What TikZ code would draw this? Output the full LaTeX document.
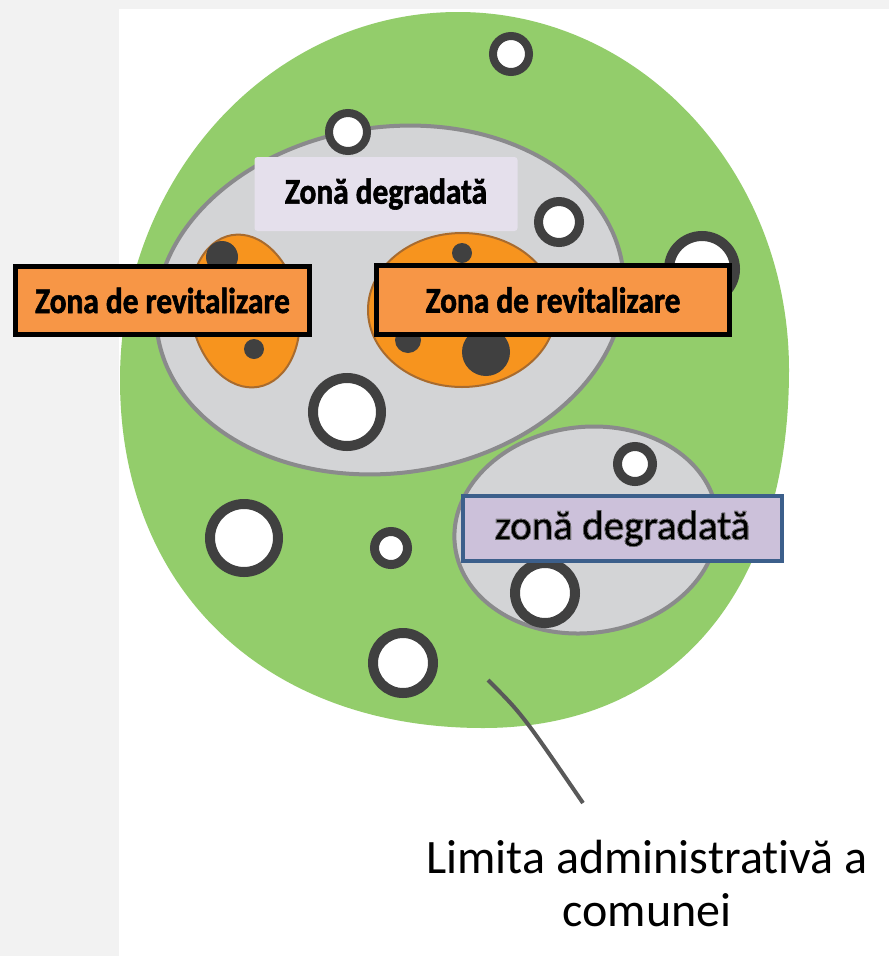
\documentclass[tikz,border=0pt]{standalone}
\usepackage{fontspec}
\setmainfont{Carlito}[Ligatures={NoCommon}]
\newfontface\lblfont[FakeBold=1.6,FakeStretch=0.87,Ligatures={NoCommon}]{Carlito Bold}
\newfontface\outA[FakeBold=3.2,Ligatures={NoCommon}]{Carlito}
\newfontface\outB[FakeBold=1.6,Ligatures={NoCommon}]{Carlito}
\newfontface\outC[FakeBold=0.3,Ligatures={NoCommon}]{Carlito}
\newcommand{\outlined}[1]{\rlap{\outA #1}\rlap{\outB\color{white}#1}{\outC #1}}
\definecolor{bggray}{HTML}{F2F2F2}
\definecolor{greenz}{HTML}{93CD6B}
\definecolor{grayfill}{HTML}{D3D4D6}
\definecolor{grayline}{HTML}{8A8A8C}
\definecolor{orangez}{HTML}{F7941E}
\definecolor{orangeline}{HTML}{A86B2E}
\definecolor{darkc}{HTML}{404040}
\definecolor{lblorange}{HTML}{F79646}
\definecolor{lbllav}{HTML}{E5E0EC}
\definecolor{lblpurple}{HTML}{CCC1DA}
\definecolor{lblblue}{HTML}{3C5F8B}
\definecolor{linec}{HTML}{595959}
\begin{document}
\begin{tikzpicture}[x=1pt,y=-1pt,
  ring/.style={draw=darkc,fill=white,line width=#1},
  dot/.style={fill=darkc},
  zonegray/.style={fill=grayfill,draw=grayline,line width=4pt},
  zoneorange/.style={fill=orangez,draw=orangeline,line width=2pt},
  revlabel/.style={draw=black,fill=lblorange,line width=5pt,inner sep=0pt,
    font=\lblfont\fontsize{36}{40}\selectfont},
  toplabel/.style={fill=lbllav,rounded corners=3pt,inner sep=0pt,
    font=\lblfont\fontsize{36}{40}\selectfont},
  purplelabel/.style={draw=lblblue,fill=lblpurple,line width=4pt,inner sep=0pt,
    font=\fontsize{41}{48}\selectfont},
  captext/.style={font=\fontsize{48}{53}\selectfont,anchor=base,inner sep=0pt},
  leader/.style={draw=linec,line width=4pt}]
\useasboundingbox (0,0) rectangle (889,956);
\fill[bggray] (0,0) rectangle (889,956);
\fill[white] (119,9) rectangle (889,956);
% green commune area
\fill[greenz] (458,12) .. controls (641,12) and (789,172) .. (789,370)
  .. controls (789,592) and (673,728) .. (483,728)
  .. controls (265,728) and (120,589) .. (120,380)
  .. controls (120,177) and (271,12) .. (458,12) -- cycle;
% rings on green
\draw[ring=8pt] (511,54) circle [radius=18];
\draw[ring=10pt] (702,269) circle [radius=33];
\draw[ring=10pt] (244,538) circle [radius=34];
\draw[ring=9pt] (391,548) circle [radius=16.5];
\draw[ring=10pt] (403,663) circle [radius=30];
% degraded zones
\draw[zonegray] (390,300) circle [x radius=235,y radius=173,rotate=8];
\draw[zonegray] (586,530) circle [x radius=132,y radius=103,rotate=7];
% revitalisation zones
\draw[zoneorange] (245,311) circle [x radius=54,y radius=77,rotate=10];
\draw[zoneorange] (462,310) circle [x radius=94,y radius=77];
\fill[dot] (222,257) circle [radius=16];
\fill[dot] (254,349) circle [radius=10];
\fill[dot] (462,253) circle [radius=10];
\fill[dot] (408,340) circle [radius=13];
\fill[dot] (486,352) circle [radius=24];
% rings in gray zones
\draw[ring=8pt] (348,132) circle [radius=19];
\draw[ring=9pt] (559,222) circle [radius=20.5];
\draw[ring=10pt] (347,412) circle [radius=34];
\draw[ring=9pt] (635,464) circle [radius=17.5];
\draw[ring=10pt] (545,593) circle [radius=30];
% labels
\node[toplabel,minimum width=263pt,minimum height=74pt] (zd1) at (386,194) {Zonă degradată};
\node[revlabel,minimum width=294pt,minimum height=68pt] (zr1) at (162.5,300.5) {Zona de revitalizare};
\node[revlabel,minimum width=353pt,minimum height=69pt] (zr2) at (553,300) {Zona de revitalizare};
\node[purplelabel,minimum width=319pt,minimum height=65pt] (zd2) at (622.5,528.5) {\outlined{zonă degradată}};
% caption
\node[captext] (lim1) at (647,873) {Limita administrativă a};
\node[captext] (lim2) at (647,926) {comunei};
\coordinate (lnA) at (488,680);
\coordinate (lnB) at (583,803);
\draw[leader] (lnA) .. controls (522,714) .. (lnB);
\end{tikzpicture}
\end{document}
